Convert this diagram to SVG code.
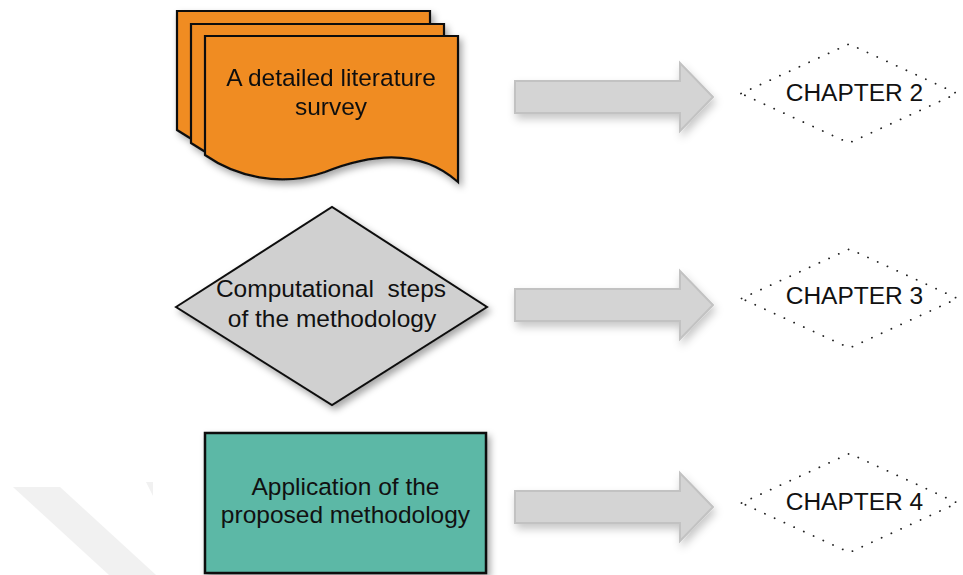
<svg xmlns="http://www.w3.org/2000/svg" width="963" height="575" viewBox="0 0 963 575">
<defs>
  <filter id="sh" x="-20%" y="-20%" width="150%" height="150%">
    <feDropShadow dx="3" dy="4" stdDeviation="3.5" flood-color="#000" flood-opacity="0.35"/>
  </filter>
  <filter id="sha" x="-20%" y="-30%" width="150%" height="170%">
    <feDropShadow dx="2" dy="5" stdDeviation="4" flood-color="#000" flood-opacity="0.22"/>
  </filter>
  <path id="doc" d="M0,0 H253 V146 C215,112 165,118 120,136 C75,152 30,140 0,119 Z"/>
  <path id="arr" d="M515,-16 H680 V-34 L713,0 L680,34 V16 H515 Z"/>
  <path id="chd" d="M-108,0 L0,-49.5 L108,0 L0,49.5 Z"/>
</defs>
<style>
  .t{font-family:"Liberation Sans",Arial,sans-serif;font-size:24.5px;fill:#111;text-anchor:middle}
  .docs use{fill:#f08c23;stroke:#111;stroke-width:2.2}
  .arrow{fill:#d4d4d4;stroke:#c2c2c2;stroke-width:2}
  .ch{fill:none;stroke:#222;stroke-width:1.8;stroke-linecap:round;stroke-dasharray:0.1 10.6}
</style>
<rect width="963" height="575" fill="#fff"/>
<g id="watermark" fill="#f1f1f1">
  <polygon points="13,487 60,487 156,575 109,575"/>
  <polygon points="146,482 153,482 153,496"/>
</g>
<g id="n1" class="docs" filter="url(#sh)">
  <use href="#doc" x="177" y="11"/>
  <use href="#doc" x="191" y="24"/>
  <use href="#doc" x="205" y="36"/>
  <text class="t" x="331" y="86">A detailed literature</text>
  <text class="t" x="331" y="115">survey</text>
</g>
<g id="n2">
  <polygon points="176,307 332,207 487,307 332,405" fill="#d0d0d0" stroke="#111" stroke-width="2" filter="url(#sh)"/>
  <text class="t" x="331" y="297" xml:space="preserve">Computational  steps</text>
  <text class="t" x="332" y="327">of the methodology</text>
</g>
<g id="n3">
  <rect x="205" y="433" width="281" height="140" fill="#5cb8a6" stroke="#111" stroke-width="2.5" filter="url(#sh)"/>
  <text class="t" x="345.5" y="495">Application of the</text>
  <text class="t" x="345.5" y="523">proposed methodology</text>
</g>
<g id="connectors" class="arrow" filter="url(#sha)">
  <use href="#arr" y="97"/>
  <use href="#arr" y="305"/>
  <use href="#arr" y="507"/>
</g>
<g id="c2">
  <use href="#chd" class="ch" x="849" y="93.5"/>
  <text class="t" x="854.5" y="101">CHAPTER 2</text>
</g>
<g id="c3">
  <use href="#chd" class="ch" x="849.5" y="298.5"/>
  <text class="t" x="854.5" y="304">CHAPTER 3</text>
</g>
<g id="c4">
  <use href="#chd" class="ch" x="849.5" y="503"/>
  <text class="t" x="854.5" y="510">CHAPTER 4</text>
</g>
</svg>
